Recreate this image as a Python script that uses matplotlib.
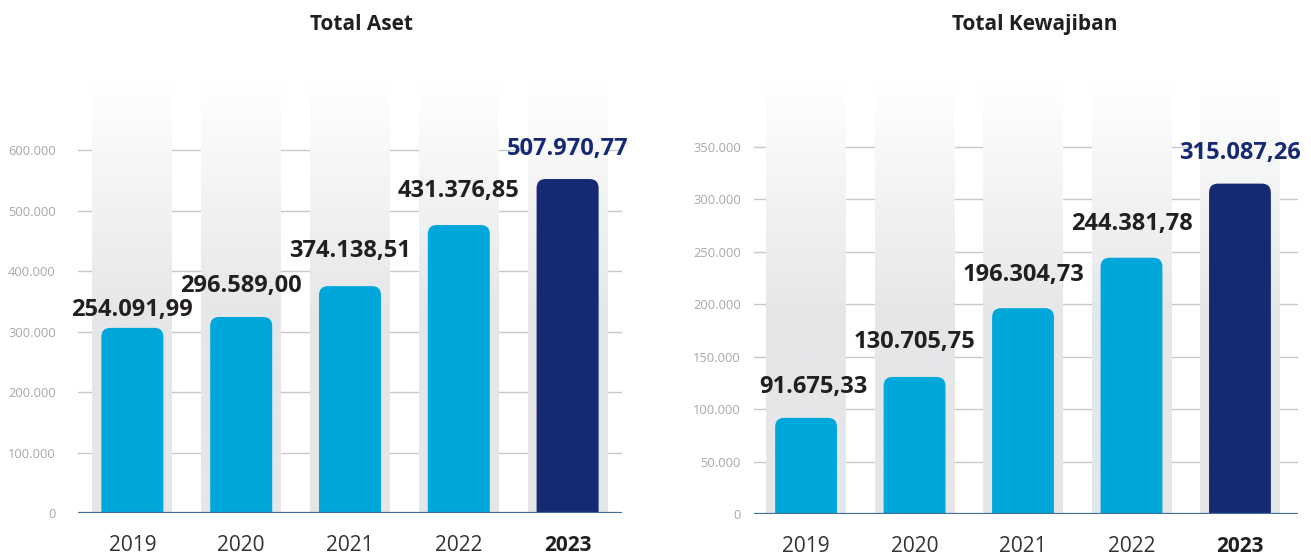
import numpy as np
import matplotlib
matplotlib.use("Agg")
import matplotlib.pyplot as plt
from matplotlib.patches import FancyBboxPatch
from matplotlib.ticker import FuncFormatter

plt.rcParams['font.family'] = ['Open Sans', 'DejaVu Sans']

# data
years = ['2019', '2020', '2021', '2022', '2023']
aset_values = [254091.99, 296589.00, 374138.51, 431376.85, 507970.77]
# bar heights as drawn against the axis in the source chart
aset_bar_heights = [306000, 324000, 375000, 476000, 552000]
kewajiban_values = [91675.33, 130705.75, 196304.73, 244381.78, 315087.26]

aset_ticks = [0, 100000, 200000, 300000, 400000, 500000, 600000]
kewajiban_ticks = [0, 50000, 100000, 150000, 200000, 250000, 300000, 350000]

# label gaps above bar tops, in pixels
aset_label_gap = [12, 25, 29, 28, 24]
kewajiban_label_gap = [25, 29, 27, 28, 25]
kewajiban_label_dx = [7, 0, 0, 0, 0]

LIGHT = '#00a7da'
NAVY = '#152a73'
TEXT = '#231f20'
W, H = 1311, 557


def idr(v):
    s = f"{v:,.2f}"
    return s.replace(',', '#').replace('.', ',').replace('#', '.')


def thousands(v, pos):
    return f"{int(v):,}".replace(',', '.')


def draw_panel(ax, heights, values, ticks, xlim, ylim, gaps, dxs, ylab_pad):
    ax.set_xlim(*xlim)
    ax.set_ylim(*ylim)
    bb = ax.get_position()
    px_x = bb.width * W / (xlim[1] - xlim[0])
    px_y = bb.height * H / (ylim[1] - ylim[0])
    aspect = px_x / px_y

    # gradient background columns (white at top, grey lower down)
    t = np.linspace(0, 1, 200)
    g = np.clip(t / 0.55, 0, 1)
    top_c = np.array([1.0, 1.0, 1.0])
    bot_c = np.array([0xe5, 0xe6, 0xe8]) / 255
    img = (top_c[None, :] * (1 - g[:, None]) + bot_c[None, :] * g[:, None])[:, None, :]
    for i in range(len(years)):
        ax.imshow(img, extent=(i - 0.367, i + 0.367, 0, ylim[1]), origin='upper',
                  aspect='auto', zorder=1, interpolation='bilinear')

    bw = 0.57
    r = 9 / px_x
    below = 30 / px_y  # start under the axis so only the top corners show rounded
    for i, h in enumerate(heights):
        color = NAVY if i == len(heights) - 1 else LIGHT
        ax.add_patch(FancyBboxPatch((i - bw / 2, -below), bw, h + below,
                                    boxstyle=f"round,pad=0,rounding_size={r}",
                                    mutation_aspect=aspect, fc=color, ec='none', zorder=3))
        ax.annotate(idr(values[i]), (i, h), xytext=(dxs[i] * 0.72, gaps[i] * 0.72),
                    textcoords='offset points', ha='center', va='baseline',
                    fontsize=17, fontweight='bold',
                    color=NAVY if i == len(heights) - 1 else TEXT, zorder=5)

    ax.set_xlim(*xlim)
    ax.set_ylim(*ylim)
    ax.set_yticks(ticks)
    ax.yaxis.set_major_formatter(FuncFormatter(thousands))
    ax.set_axisbelow(True)
    ax.grid(axis='y', color='#c8c8c8', lw=1)
    ax.axhline(0, color='#3f6f9a', lw=1.6, zorder=4)
    for sp in ax.spines.values():
        sp.set_visible(False)
    ax.tick_params(axis='y', length=0, pad=ylab_pad, labelsize=9.3, labelcolor='#a6a8ab')
    ax.tick_params(axis='x', length=0, pad=16, labelsize=15, labelcolor='#333333')
    ax.set_xticks(range(len(years)))
    ax.set_xticklabels(years)
    lbl = ax.get_xticklabels()[-1]
    lbl.set_fontweight('bold')
    lbl.set_color(TEXT)


fig = plt.figure(figsize=(W / 100, H / 100), dpi=100)
ax1 = fig.add_axes([78 / W, 44 / H, 544 / W, 431 / H])
ax2 = fig.add_axes([754 / W, 43 / H, 544 / W, 432 / H])

draw_panel(ax1, aset_bar_heights, aset_values, aset_ticks, (-0.5, 4.5), (0, 712400),
           aset_label_gap, [0] * 5, 16)
draw_panel(ax2, kewajiban_values, kewajiban_values, kewajiban_ticks, (-0.48, 4.535), (0, 412000),
           kewajiban_label_gap, kewajiban_label_dx, 9.5)

fig.text(361 / W, 1 - 30 / H, 'Total Aset', ha='center', va='baseline',
         fontsize=15, fontweight='bold', color=TEXT)
fig.text(1035 / W, 1 - 30 / H, 'Total Kewajiban', ha='center', va='baseline',
         fontsize=15, fontweight='bold', color=TEXT)

fig.savefig('out.png', dpi=100, facecolor='white')
